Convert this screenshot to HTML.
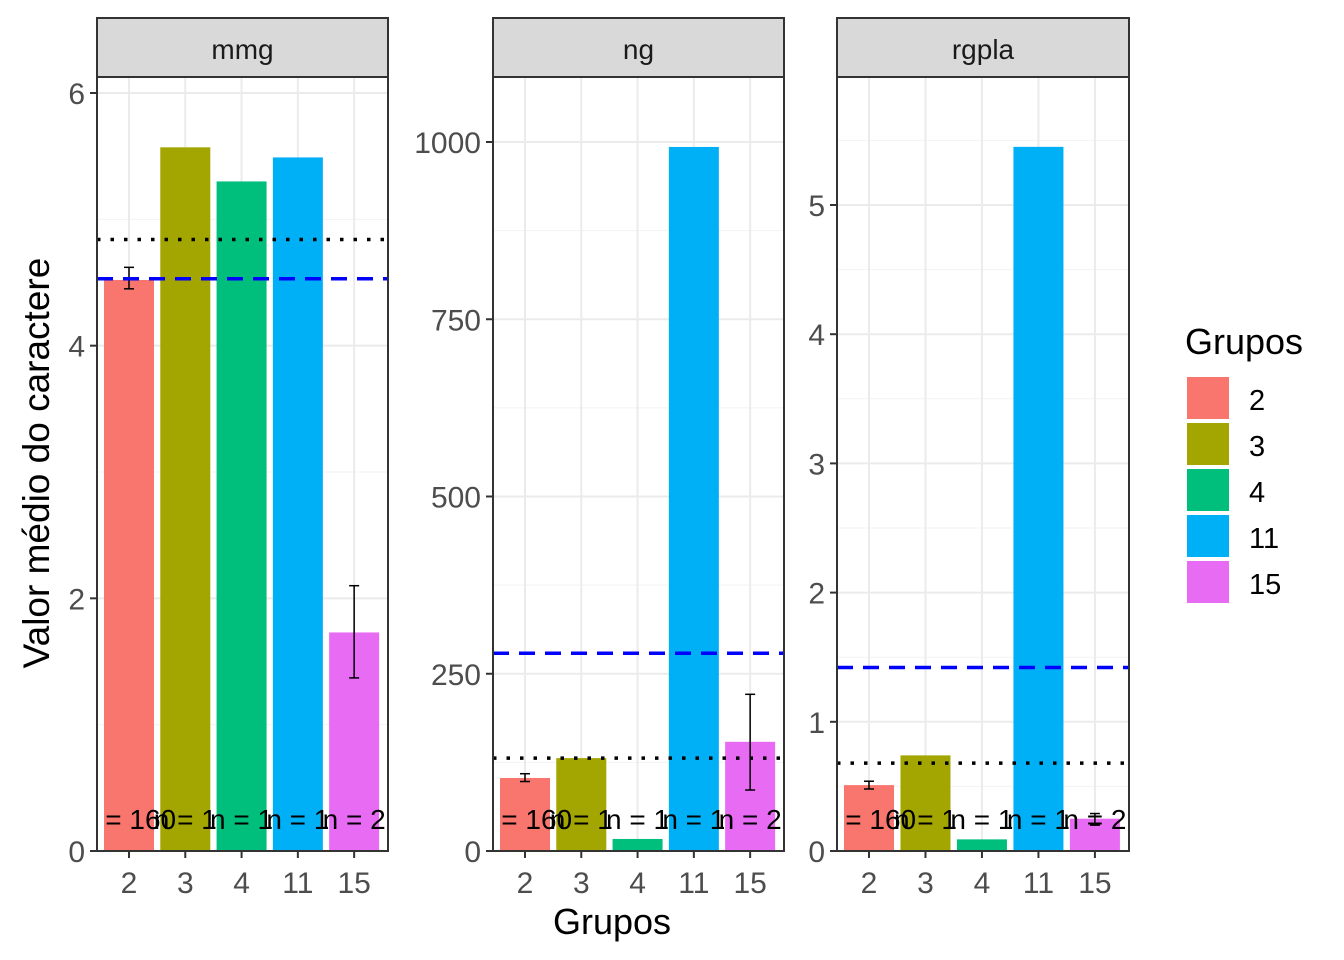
<!DOCTYPE html>
<html><head><meta charset="utf-8">
<style>body{margin:0;background:#fff}svg{display:block;font-family:"Liberation Sans",Arial,sans-serif}</style>
</head><body>
<svg id="c" width="1344" height="960"></svg>
<script>
const categories=["2","3","4","11","15"];
const colors=["#F8766D","#A3A500","#00BF7D","#00B0F6","#E76BF3"];
const facetNames=["mmg","ng","rgpla"];
const mmgValues=[4.52,5.57,5.30,5.49,1.73];
const ngValues=[103,131,17,993,154];
const rgplaValues=[0.51,0.74,0.09,5.45,0.25];
const mmgErr=[[4.45,4.62],null,null,null,[1.37,2.10]];
const ngErr=[[98,109],null,null,null,[86,221]];
const rgplaErr=[[0.48,0.54],null,null,null,[0.20,0.29]];
const dashedRefs=[4.53,279,1.42];
const dottedRefs=[4.84,131,0.68];
const nLabels=["n = 160","n = 1","n = 1","n = 1","n = 2"];
const mmgTicks=[0,2,4,6];
const ngTicks=[0,250,500,750,1000];
const rgplaTicks=[0,1,2,3,4,5];

const NS="http://www.w3.org/2000/svg";
const svg=document.getElementById('c');
function el(t,a,p){const e=document.createElementNS(NS,t);for(const k in a)e.setAttribute(k,a[k]);(p||svg).appendChild(e);return e;}
const facets=[
 {x0:97,x1:388,vals:mmgValues,err:mmgErr,ticks:mmgTicks,domMax:6,ref6:93},
 {x0:493,x1:784,vals:ngValues,err:ngErr,ticks:ngTicks,domMax:1000,ref6:142},
 {x0:837,x1:1129,vals:rgplaValues,err:rgplaErr,ticks:rgplaTicks,domMax:5,ref6:205}
];
const yBot=851,yTop=77;
facets.forEach((f,fi)=>{
 const y=v=>yBot-(v/f.domMax)*(yBot-f.ref6);
 const step=(f.x1-f.x0)/5.17;
 const x=i=>f.x0+32+i*step;
 const g=el('g',{});
 
 
 const cid='clip'+fi;
 const cp=el('clipPath',{id:cid},g);el('rect',{x:f.x0,y:yTop,width:f.x1-f.x0,height:yBot-yTop},cp);
 el('rect',{x:f.x0,y:yTop,width:f.x1-f.x0,height:yBot-yTop,fill:'#fff'},g);
 const gc=el('g',{'clip-path':`url(#${cid})`},g);
 const tstep=f.ticks[1]-f.ticks[0];
 for(let v=tstep/2;y(v)>yTop;v+=tstep) el('line',{x1:f.x0,x2:f.x1,y1:y(v),y2:y(v),stroke:'#F2F2F2','stroke-width':1},gc);
 f.ticks.forEach(v=>el('line',{x1:f.x0,x2:f.x1,y1:y(v),y2:y(v),stroke:'#EBEBEB','stroke-width':2},gc));
 categories.forEach((c,i)=>el('line',{x1:x(i),x2:x(i),y1:yTop,y2:yBot,stroke:'#EBEBEB','stroke-width':2},gc));
 f.vals.forEach((v,i)=>{
  const r=el('rect',{x:x(i)-25,y:y(v),width:50,height:yBot-y(v),fill:colors[i]},gc);
  
  
 });
 f.err.forEach((e,i)=>{if(!e)return;
  const eg=el('g',{stroke:'#000','stroke-width':1.5},gc);
  
  
  el('line',{x1:x(i),x2:x(i),y1:y(e[0]),y2:y(e[1])},eg);
  el('line',{x1:x(i)-5,x2:x(i)+5,y1:y(e[0]),y2:y(e[0])},eg);
  el('line',{x1:x(i)-5,x2:x(i)+5,y1:y(e[1]),y2:y(e[1])},eg);
 });
 const dl=el('line',{x1:f.x0,x2:f.x1,y1:y(dashedRefs[fi]),y2:y(dashedRefs[fi]),stroke:'#0000FF','stroke-width':3.5,'stroke-dasharray':'16 10'},gc);
 
 const dt=el('line',{x1:f.x0,x2:f.x1,y1:y(dottedRefs[fi]),y2:y(dottedRefs[fi]),stroke:'#000','stroke-width':3.5,'stroke-dasharray':'3.5 10'},gc);
 
 nLabels.forEach((t,i)=>{const tx=el('text',{x:x(i),y:829,'text-anchor':'middle','font-size':28,fill:'#000'},gc);tx.textContent=t;
  });
 el('rect',{x:f.x0,y:yTop,width:f.x1-f.x0,height:yBot-yTop,fill:'none',stroke:'#333','stroke-width':2},g);
 const st=el('rect',{x:f.x0,y:18,width:f.x1-f.x0,height:59,fill:'#D9D9D9',stroke:'#333','stroke-width':2},g);
 
 const sl=el('text',{x:(f.x0+f.x1)/2,y:59,'text-anchor':'middle','font-size':28,fill:'#1A1A1A'},g);sl.textContent=facetNames[fi];
 
 f.ticks.forEach(v=>{
  el('line',{x1:f.x0-7,x2:f.x0,y1:y(v),y2:y(v),stroke:'#333','stroke-width':2},g);
  const t=el('text',{x:f.x0-12,y:y(v)+11,'text-anchor':'end','font-size':30,fill:'#4D4D4D'},g);t.textContent=v;
  
 });
 categories.forEach((c,i)=>{
  el('line',{x1:x(i),x2:x(i),y1:yBot,y2:yBot+7,stroke:'#333','stroke-width':2},g);
  const t=el('text',{x:x(i),y:893,'text-anchor':'middle','font-size':30,fill:'#4D4D4D'},g);t.textContent=c;
  
 });
});
let t=el('text',{x:612,y:934,'text-anchor':'middle','font-size':36,fill:'#000'});t.textContent='Grupos';

t=el('text',{x:0,y:0,'text-anchor':'middle','font-size':37,fill:'#000',transform:'translate(49,463) rotate(-90)'});t.textContent='Valor médio do caractere';

t=el('text',{x:1185,y:354,'font-size':36,fill:'#000'});t.textContent='Grupos';

categories.forEach((c,i)=>{
 const lg=el('g',{});
 
 
 el('rect',{x:1187,y:377+i*46,width:42,height:42,fill:colors[i]},lg);
 const lt=el('text',{x:1249,y:410+i*46,'font-size':29,fill:'#000'},lg);lt.textContent=c;
});
</script>
</body></html>
